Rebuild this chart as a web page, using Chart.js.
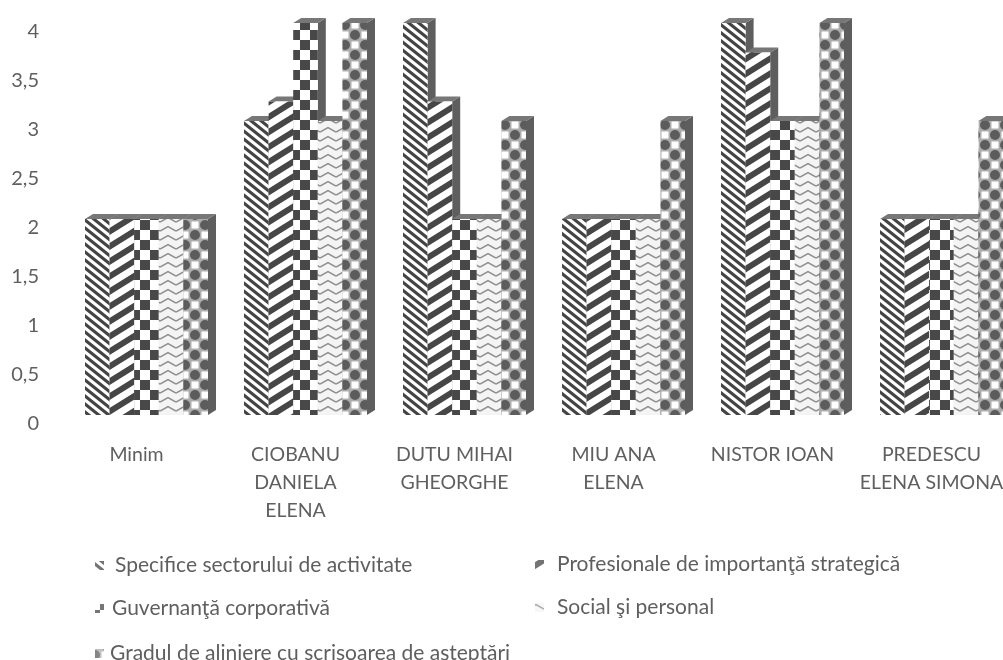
<!DOCTYPE html>
<html><head><meta charset="utf-8">
<style>
html,body{margin:0;padding:0;background:#fff;width:1003px;height:660px;overflow:hidden}
canvas{display:block;filter:blur(.7px)}
</style>
<script src="https://cdn.jsdelivr.net/npm/chart.js@4"></script>
</head><body>
<canvas id="c" width="1040" height="660" style="width:1040px;height:660px"></canvas>
<script>
const categories = ["Minim",["CIOBANU","DANIELA","ELENA"],["DUTU MIHAI","GHEORGHE"],["MIU ANA","ELENA"],"NISTOR IOAN",["PREDESCU","ELENA SIMONA"]];
const specifice  = [2.0,3.0,4.0,2.0,4.0,2.0];
const profesionale = [2.0,3.2,3.2,2.0,3.7,2.0];
const guvernanta = [2.0,4.0,2.0,2.0,3.0,2.0];
const social     = [2.0,3.0,2.0,2.0,3.0,2.0];
const gradul     = [2.0,4.0,3.0,3.0,4.0,3.0];
const seriesNames = ["Specifice sectorului de activitate","Profesionale de importanţă strategică","Guvernanţă corporativă","Social şi personal","Gradul de aliniere cu scrisoarea de aşteptări"];
const yTicks = {min:0,max:4,step:0.5};

function tile(w,h,fn){const t=document.createElement('canvas');t.width=w;t.height=h;const g=t.getContext('2d');g.fillStyle='#fff';g.fillRect(0,0,w,h);fn(g,w,h);return document.getElementById('c').getContext('2d').createPattern(t,'repeat');}
function diag(g,w,h,dir,lw,col){g.strokeStyle=col;g.lineWidth=lw;for(let i=-2;i<=2;i++){g.beginPath();if(dir>0){g.moveTo(-w,i*h-h);g.lineTo(2*w,i*h+2*h);}else{g.moveTo(-w,i*h+2*h);g.lineTo(2*w,i*h-h);}g.stroke();}}
const pats=[
 tile(10,8,(g,w,h)=>diag(g,w,h,1,3.1,'#444444')),
 tile(24,15,(g,w,h)=>diag(g,w,h,-1,6,'#464646')),
 tile(20,20,(g)=>{g.fillStyle='#484848';g.fillRect(0,0,10,10);g.fillRect(10,10,10,10);}),
 tile(16,9,(g)=>{g.fillStyle='#f4f4f4';g.fillRect(0,0,16,9);g.strokeStyle='#8d8d8d';g.lineWidth=1.5;for(const o of [-9,0,9]){g.beginPath();g.moveTo(0,o+6);g.lineTo(8,o+1.5);g.lineTo(16,o+6);g.stroke();}}),
 tile(20,20,(g)=>{g.fillStyle='#adadad';g.fillRect(0,0,20,20);g.fillStyle='#fff';g.fillRect(11.5,1.5,7,7);g.fillRect(1.5,11.5,7,7);g.fillStyle='#5c5c5c';g.beginPath();g.arc(5,5,5,0,7);g.fill();g.beginPath();g.arc(15,15,5,0,7);g.fill();})
];
const sideW=8, topH=5;
function drawDepth(chart,i){
 const ctx=chart.ctx;
 chart.getDatasetMeta(i).data.forEach(b=>{
  const p=b.getProps(['x','y','base','width'],true);const l=p.x-p.width/2,r=p.x+p.width/2;
  ctx.fillStyle='#5e5e5e';ctx.beginPath();ctx.moveTo(r,p.y);ctx.lineTo(r+sideW,p.y-topH);ctx.lineTo(r+sideW,p.base-topH);ctx.lineTo(r,p.base);ctx.closePath();ctx.fill();
  ctx.fillStyle='#777777';ctx.beginPath();ctx.moveTo(l,p.y);ctx.lineTo(l+sideW,p.y-topH);ctx.lineTo(r+sideW,p.y-topH);ctx.lineTo(r,p.y);ctx.closePath();ctx.fill();
 });
}
const depth={id:'depth',beforeDatasetsDraw(chart){
 chart.data.datasets.forEach((d,i)=>{drawDepth(chart,i);chart.getDatasetMeta(i).controller.draw();});
 return false;
}};
const legendSpots=[[95,565,115],[535,564,557],[95,608,112],[535,607,557],[95,653,110]];
const legendDraw={id:'legendDraw',afterDraw(chart){
 const ctx=chart.ctx;ctx.save();ctx.font='21px Lato';ctx.textBaseline='middle';ctx.textAlign='left';
 chart.data.datasets.forEach((d,i)=>{const [sx,y,tx]=legendSpots[i];
  ctx.fillStyle=d.backgroundColor;ctx.globalAlpha=.75;ctx.fillRect(sx,y-4,9,9);ctx.globalAlpha=1;
  ctx.fillStyle='#5f5f5f';ctx.fillText(d.label,tx,y);});
 ctx.restore();
}};
const values=[specifice,profesionale,guvernanta,social,gradul];
new Chart(document.getElementById('c'),{
 type:'bar',
 data:{labels:categories,datasets:values.map((v,i)=>({label:seriesNames[i],data:v,backgroundColor:pats[i],borderWidth:0,categoryPercentage:.7736,barPercentage:1}))},
 options:{responsive:false,animation:false,
  layout:{padding:{top:23,right:19,left:0,bottom:0}},
  plugins:{legend:{display:false},tooltip:{enabled:false}},
  scales:{
   x:{grid:{display:false},border:{display:false},
      afterFit(s){s.height=245;},
      ticks:{autoSkip:false,maxRotation:0,minRotation:0,labelOffset:-10,padding:18,color:'#5f5f5f',font:{family:'Lato',size:19.5,lineHeight:28/19.5}}},
   y:{min:yTicks.min,max:yTicks.max,grid:{display:false},border:{display:false},
      afterFit(s){s.width=67;s.paddingTop=0;s.paddingBottom=0;},
      ticks:{stepSize:yTicks.step,padding:20,labelOffset:9,color:'#5f5f5f',font:{family:'Lato',size:20},
        callback:v=>String(v).replace('.',',')}}
  }
 },
 plugins:[depth,legendDraw]
});
</script>
</body></html>
